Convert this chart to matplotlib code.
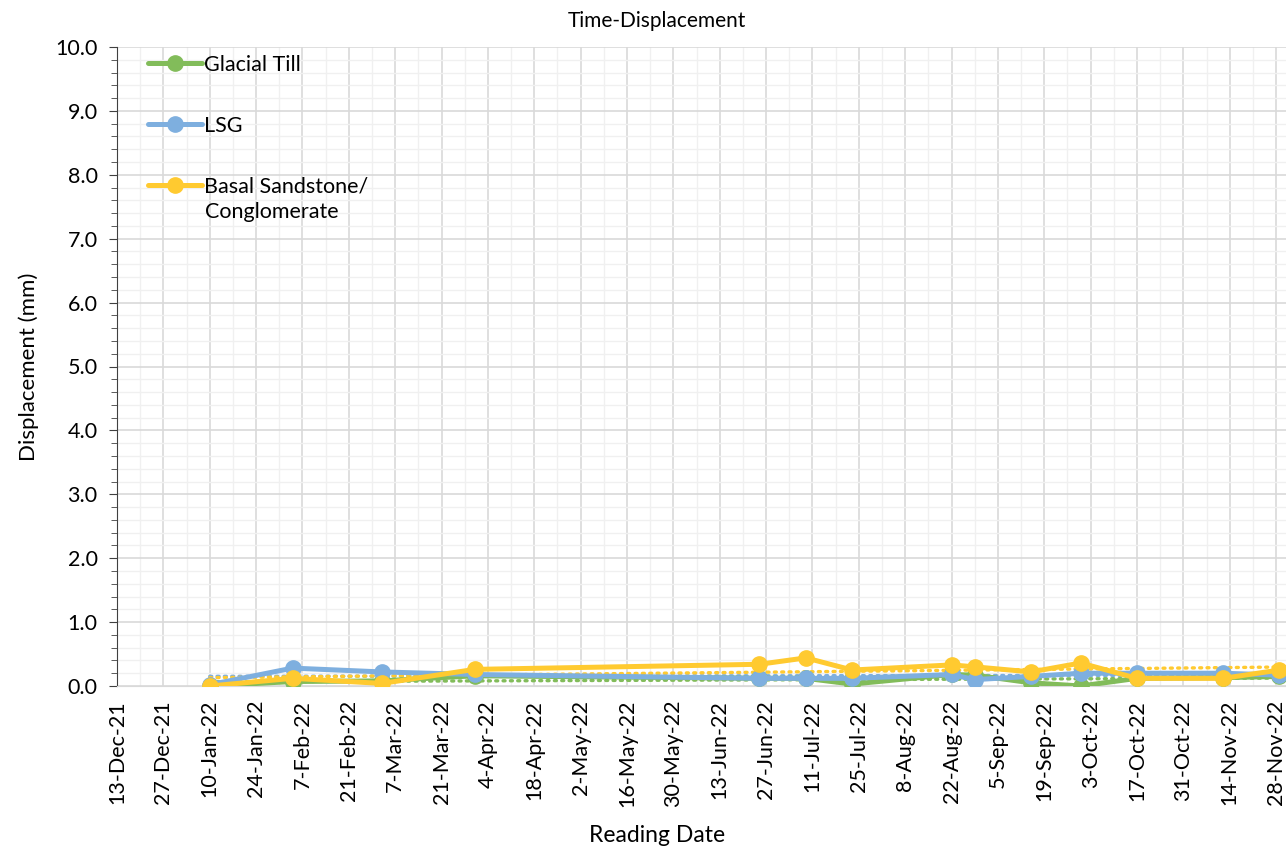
import numpy as np
import pandas as pd
import matplotlib
matplotlib.use("Agg")
import matplotlib.pyplot as plt
import matplotlib.dates as mdates
from matplotlib.ticker import MultipleLocator, FixedLocator, FuncFormatter

plt.rcParams["font.family"] = ["Lato", "DejaVu Sans"]

# reading dates and displacements (mm)
dates = pd.to_datetime([
    "2022-01-10", "2022-02-04", "2022-03-03", "2022-03-31", "2022-06-25",
    "2022-07-09", "2022-07-23", "2022-08-22", "2022-08-29", "2022-09-15",
    "2022-09-30", "2022-10-17", "2022-11-12", "2022-11-29",
])
glacial_till = [0.00, 0.07, 0.08, 0.16, 0.12, 0.12, 0.03, 0.18, 0.17, 0.05,
                0.00, 0.12, 0.13, 0.15]
lsg = [0.02, 0.28, 0.22, 0.18, 0.12, 0.12, 0.12, 0.18, 0.10, 0.15,
       0.20, 0.20, 0.20, 0.17]
basal = [0.00, 0.12, 0.04, 0.26, 0.34, 0.44, 0.25, 0.33, 0.30, 0.22,
         0.36, 0.12, 0.12, 0.25]

series = [
    ("Glacial Till", glacial_till, "#82BC5A"),
    ("LSG", lsg, "#7EAFDF"),
    ("Basal Sandstone/", basal, "#FFCA30"),
]

x_start = pd.Timestamp("2021-12-13")
x_end = pd.Timestamp("2022-11-28")

fig = plt.figure(figsize=(12.86, 8.51), dpi=100)
ax = fig.add_axes([117 / 1286, 1 - 686 / 851, 1 - 117 / 1286, (686 - 47) / 851])

xn = mdates.date2num(dates)
for name, vals, col in series:
    ax.plot(dates, vals, color=col, lw=3.6, marker="o", ms=11, label=name,
            solid_capstyle="round", zorder=3)

# linear trendlines
x_trend = np.array([xn[0], mdates.date2num(x_end) + 4])
for name, vals, col in series:
    k, b = np.polyfit(xn, vals, 1)
    ax.plot(x_trend, k * x_trend + b, color=col, lw=2.4, ls=(0, (0.6, 1.6)),
            dash_capstyle="round", zorder=2)

ax.set_xlim(mdates.date2num(x_start), mdates.date2num(x_end) + 3)
ax.set_ylim(0, 10)

major_x = pd.date_range(x_start, x_end, freq="14D")
minor_x = pd.date_range(x_start, x_end, freq="7D")
ax.xaxis.set_major_locator(FixedLocator(mdates.date2num(major_x)))
ax.xaxis.set_minor_locator(FixedLocator(mdates.date2num(minor_x)))
ax.xaxis.set_major_formatter(FuncFormatter(
    lambda v, p: (lambda d: f"{d.day}-{d.strftime('%b-%y')}")(mdates.num2date(v))))
ax.yaxis.set_major_locator(MultipleLocator(1.0))
ax.yaxis.set_minor_locator(MultipleLocator(0.2))
ax.yaxis.set_major_formatter(FuncFormatter(lambda v, p: f"{v:.1f}"))

ax.grid(which="major", color="#D9D9D9", lw=1.2, zorder=0)
ax.grid(which="minor", color="#F0F0F0", lw=1.0, zorder=0)
ax.set_axisbelow(True)

ax.tick_params(axis="x", which="both", length=0, labelsize=15.5, rotation=90, pad=10)
ax.tick_params(axis="y", which="major", length=6, labelsize=15.5, color="#404040", pad=8)
ax.tick_params(axis="y", which="minor", length=4, color="#404040")
for lab in ax.get_xticklabels():
    lab.set_va("top")

for s in ["top", "right"]:
    ax.spines[s].set_visible(False)
ax.spines["left"].set_color("#404040")
ax.spines["bottom"].set_color("#D9D9D9")

ax.set_ylabel("Displacement (mm)", fontsize=16, labelpad=12)
fig.text(657 / 1286, 1 - 836 / 851, "Reading Date", ha="center", va="center", fontsize=16.5)
fig.text(657 / 1286, 1 - 21 / 851, "Time-Displacement", ha="center", va="center", fontsize=15)

leg = ax.legend(loc="upper left", bbox_to_anchor=(0.01, 1.018), frameon=False,
                fontsize=15.5, labelspacing=1.9, handlelength=2.5, handletextpad=0.1)
# second line of the last legend label
fig.text(205 / 1286, 1 - 212 / 851, "Conglomerate", ha="left", va="center", fontsize=15.5)

fig.savefig("out.png", dpi=100)
